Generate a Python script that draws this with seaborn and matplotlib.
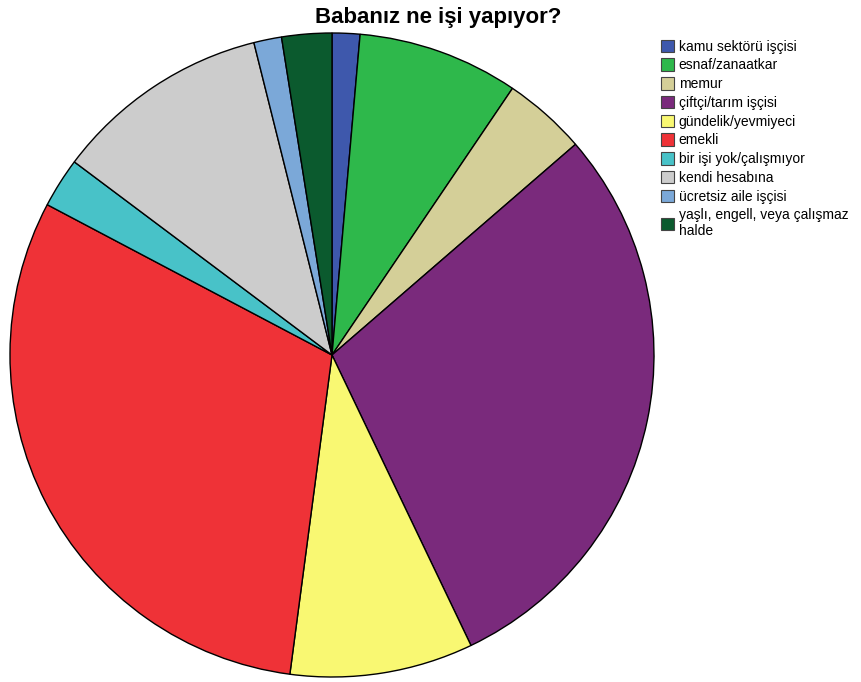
import matplotlib
matplotlib.use("Agg")
import matplotlib.pyplot as plt
import seaborn as sns
from matplotlib.patches import Patch

# Data (counts, clockwise from top)
labels = [
    "kamu sektörü işçisi",
    "esnaf/zanaatkar",
    "memur",
    "çiftçi/tarım işçisi",
    "gündelik/yevmiyeci",
    "emekli",
    "bir işi yok/çalışmıyor",
    "kendi hesabına",
    "ücretsiz aile işçisi",
    "yaşlı, engell, veya çalışmaz\nhalde",
]
counts = [5, 29, 15, 105, 33, 110, 9, 39, 5, 9]
colors = ["#3E58AC", "#2EB84B", "#D4CF98", "#7A2A7C", "#F9F872",
          "#EF3237", "#48C2C8", "#CCCCCC", "#7BA8D8", "#0B5A2E"]

sns.set_style("white")
plt.rcParams["font.family"] = ["Liberation Sans", "DejaVu Sans"]
plt.rcParams["text.color"] = "black"

palette = sns.color_palette(colors)

fig = plt.figure(figsize=(8.61, 6.82), dpi=100)
ax = fig.add_axes([10 / 861, 5 / 682, 644 / 861, 644 / 682])
ax.pie(counts, colors=palette, startangle=90, counterclock=False,
       radius=1.0, wedgeprops=dict(edgecolor="black", linewidth=1.0))
ax.set_xlim(-1.0, 1.0)
ax.set_ylim(-1.0, 1.0)
ax.set_aspect("equal")
ax.axis("off")

fig.text(438 / 861, 1 - 17 / 682, "Babanız ne işi yapıyor?", ha="center", va="center",
         fontsize=16, fontweight="bold", color="black")

handles = [Patch(facecolor=c, edgecolor="#444444", linewidth=0.8) for c in palette]
leg = fig.legend(handles, labels, loc="upper left",
                 bbox_to_anchor=(651 / 861, 1 - 30 / 682), frameon=False,
                 fontsize=10, handlelength=0.95, handleheight=1.0,
                 handletextpad=0.35, labelspacing=0.34, borderpad=0.2)
for t in leg.get_texts():
    t.set_color("black")

fig.savefig("out.png", dpi=100)
